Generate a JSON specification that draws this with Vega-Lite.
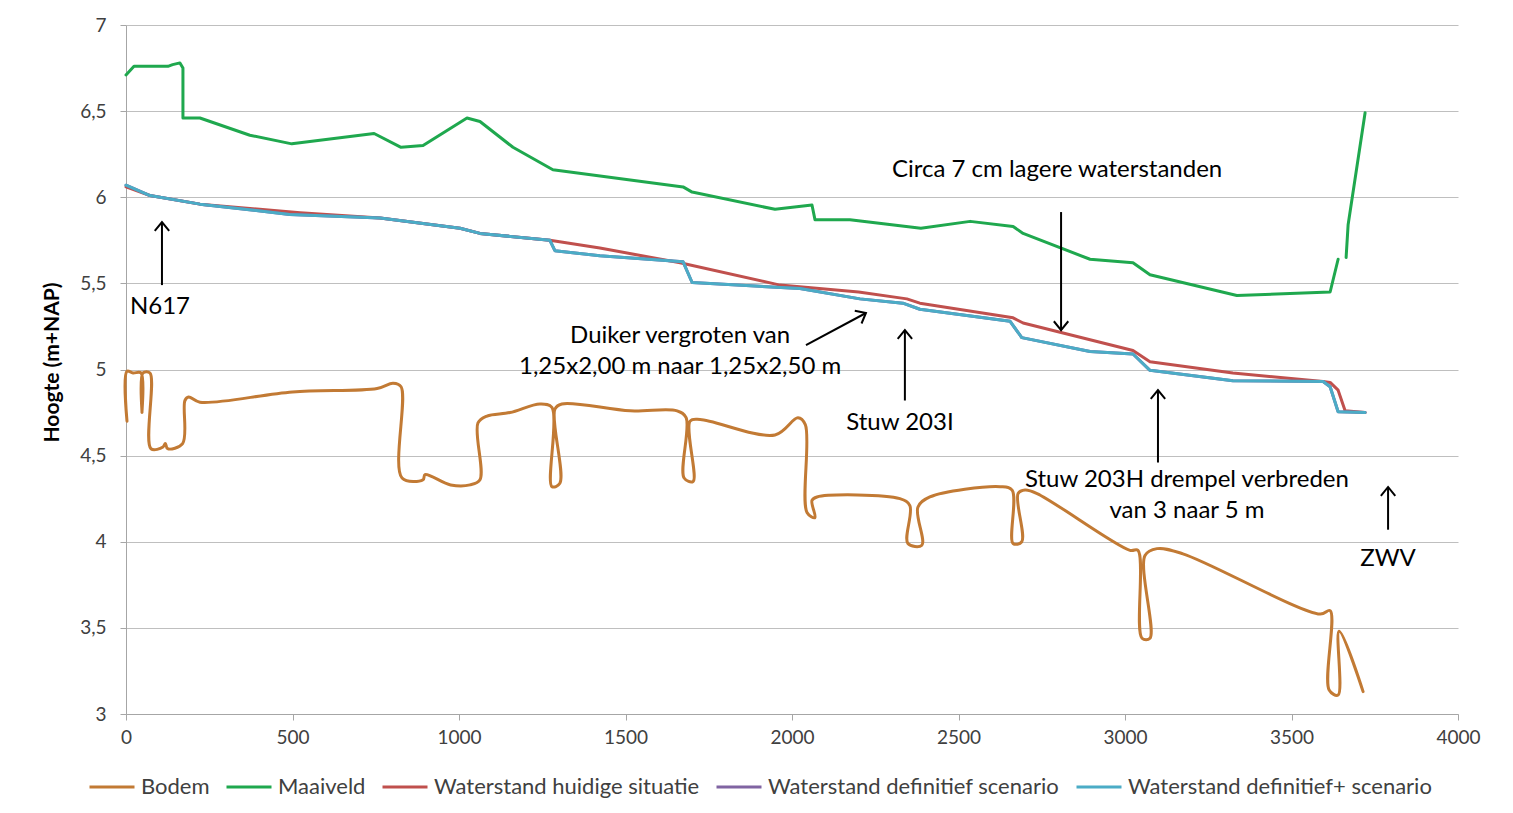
{
  "$schema": "https://vega.github.io/schema/vega-lite/v6.json",
  "width": 1332,
  "height": 689,
  "autosize": {"type": "none"},
  "padding": {"left": 126, "top": 25, "right": 55, "bottom": 99},
  "background": "white",
  "config": {
    "view": {"stroke": null},
    "font": "Lato"
  },
  "datasets": {
    "lines": [
      {"s": "Bodem", "g": 1, "i": 1, "x": 3, "y": 4.70},
      {"s": "Bodem", "g": 1, "i": 2, "x": 3, "y": 4.99},
      {"s": "Bodem", "g": 1, "i": 3, "x": 21, "y": 4.98},
      {"s": "Bodem", "g": 1, "i": 4, "x": 45, "y": 4.98},
      {"s": "Bodem", "g": 1, "i": 5, "x": 48, "y": 4.75},
      {"s": "Bodem", "g": 1, "i": 6, "x": 51, "y": 4.98},
      {"s": "Bodem", "g": 1, "i": 7, "x": 72, "y": 4.98},
      {"s": "Bodem", "g": 1, "i": 8, "x": 75, "y": 4.54},
      {"s": "Bodem", "g": 1, "i": 9, "x": 111, "y": 4.55},
      {"s": "Bodem", "g": 1, "i": 10, "x": 118, "y": 4.57},
      {"s": "Bodem", "g": 1, "i": 11, "x": 125, "y": 4.54},
      {"s": "Bodem", "g": 1, "i": 12, "x": 170, "y": 4.57},
      {"s": "Bodem", "g": 1, "i": 13, "x": 177, "y": 4.82},
      {"s": "Bodem", "g": 1, "i": 14, "x": 188, "y": 4.84},
      {"s": "Bodem", "g": 1, "i": 15, "x": 222, "y": 4.81},
      {"s": "Bodem", "g": 1, "i": 16, "x": 500, "y": 4.87},
      {"s": "Bodem", "g": 1, "i": 17, "x": 754, "y": 4.89},
      {"s": "Bodem", "g": 1, "i": 18, "x": 802, "y": 4.92},
      {"s": "Bodem", "g": 1, "i": 19, "x": 826, "y": 4.90},
      {"s": "Bodem", "g": 1, "i": 20, "x": 829, "y": 4.37},
      {"s": "Bodem", "g": 1, "i": 21, "x": 892, "y": 4.36},
      {"s": "Bodem", "g": 1, "i": 22, "x": 898, "y": 4.39},
      {"s": "Bodem", "g": 1, "i": 23, "x": 975, "y": 4.33},
      {"s": "Bodem", "g": 1, "i": 24, "x": 1033, "y": 4.33},
      {"s": "Bodem", "g": 1, "i": 25, "x": 1063, "y": 4.36},
      {"s": "Bodem", "g": 1, "i": 26, "x": 1057, "y": 4.69},
      {"s": "Bodem", "g": 1, "i": 27, "x": 1084, "y": 4.73},
      {"s": "Bodem", "g": 1, "i": 28, "x": 1153, "y": 4.75},
      {"s": "Bodem", "g": 1, "i": 29, "x": 1243, "y": 4.80},
      {"s": "Bodem", "g": 1, "i": 30, "x": 1279, "y": 4.78},
      {"s": "Bodem", "g": 1, "i": 31, "x": 1279, "y": 4.32},
      {"s": "Bodem", "g": 1, "i": 32, "x": 1303, "y": 4.34},
      {"s": "Bodem", "g": 1, "i": 33, "x": 1288, "y": 4.77},
      {"s": "Bodem", "g": 1, "i": 34, "x": 1309, "y": 4.80},
      {"s": "Bodem", "g": 1, "i": 35, "x": 1514, "y": 4.76},
      {"s": "Bodem", "g": 1, "i": 36, "x": 1655, "y": 4.76},
      {"s": "Bodem", "g": 1, "i": 37, "x": 1682, "y": 4.72},
      {"s": "Bodem", "g": 1, "i": 38, "x": 1676, "y": 4.37},
      {"s": "Bodem", "g": 1, "i": 39, "x": 1703, "y": 4.35},
      {"s": "Bodem", "g": 1, "i": 40, "x": 1694, "y": 4.70},
      {"s": "Bodem", "g": 1, "i": 41, "x": 1724, "y": 4.71},
      {"s": "Bodem", "g": 1, "i": 42, "x": 1949, "y": 4.62},
      {"s": "Bodem", "g": 1, "i": 43, "x": 2018, "y": 4.72},
      {"s": "Bodem", "g": 1, "i": 44, "x": 2040, "y": 4.68},
      {"s": "Bodem", "g": 1, "i": 45, "x": 2045, "y": 4.17},
      {"s": "Bodem", "g": 1, "i": 46, "x": 2069, "y": 4.14},
      {"s": "Bodem", "g": 1, "i": 47, "x": 2060, "y": 4.24},
      {"s": "Bodem", "g": 1, "i": 48, "x": 2075, "y": 4.26},
      {"s": "Bodem", "g": 1, "i": 49, "x": 2324, "y": 4.25},
      {"s": "Bodem", "g": 1, "i": 50, "x": 2354, "y": 4.21},
      {"s": "Bodem", "g": 1, "i": 51, "x": 2348, "y": 3.99},
      {"s": "Bodem", "g": 1, "i": 52, "x": 2390, "y": 3.98},
      {"s": "Bodem", "g": 1, "i": 53, "x": 2378, "y": 4.20},
      {"s": "Bodem", "g": 1, "i": 54, "x": 2414, "y": 4.26},
      {"s": "Bodem", "g": 1, "i": 55, "x": 2625, "y": 4.32},
      {"s": "Bodem", "g": 1, "i": 56, "x": 2661, "y": 4.30},
      {"s": "Bodem", "g": 1, "i": 57, "x": 2664, "y": 3.99},
      {"s": "Bodem", "g": 1, "i": 58, "x": 2690, "y": 4.00},
      {"s": "Bodem", "g": 1, "i": 59, "x": 2679, "y": 4.28},
      {"s": "Bodem", "g": 1, "i": 60, "x": 2700, "y": 4.30},
      {"s": "Bodem", "g": 1, "i": 61, "x": 2736, "y": 4.28},
      {"s": "Bodem", "g": 1, "i": 62, "x": 3015, "y": 3.95},
      {"s": "Bodem", "g": 1, "i": 63, "x": 3039, "y": 3.95},
      {"s": "Bodem", "g": 1, "i": 64, "x": 3051, "y": 3.44},
      {"s": "Bodem", "g": 1, "i": 65, "x": 3075, "y": 3.44},
      {"s": "Bodem", "g": 1, "i": 66, "x": 3060, "y": 3.92},
      {"s": "Bodem", "g": 1, "i": 67, "x": 3096, "y": 3.96},
      {"s": "Bodem", "g": 1, "i": 68, "x": 3174, "y": 3.93},
      {"s": "Bodem", "g": 1, "i": 69, "x": 3586, "y": 3.58},
      {"s": "Bodem", "g": 1, "i": 70, "x": 3616, "y": 3.60},
      {"s": "Bodem", "g": 1, "i": 71, "x": 3613, "y": 3.14},
      {"s": "Bodem", "g": 1, "i": 72, "x": 3640, "y": 3.11},
      {"s": "Bodem", "g": 1, "i": 73, "x": 3643, "y": 3.48},
      {"s": "Bodem", "g": 1, "i": 74, "x": 3715, "y": 3.13},

      {"s": "Maaiveld", "g": 1, "i": 1, "x": 0, "y": 6.71},
      {"s": "Maaiveld", "g": 1, "i": 2, "x": 24, "y": 6.76},
      {"s": "Maaiveld", "g": 1, "i": 3, "x": 126, "y": 6.76},
      {"s": "Maaiveld", "g": 1, "i": 4, "x": 140, "y": 6.77},
      {"s": "Maaiveld", "g": 1, "i": 5, "x": 162, "y": 6.78},
      {"s": "Maaiveld", "g": 1, "i": 6, "x": 171, "y": 6.75},
      {"s": "Maaiveld", "g": 1, "i": 7, "x": 171, "y": 6.46},
      {"s": "Maaiveld", "g": 1, "i": 8, "x": 222, "y": 6.46},
      {"s": "Maaiveld", "g": 1, "i": 9, "x": 372, "y": 6.36},
      {"s": "Maaiveld", "g": 1, "i": 10, "x": 498, "y": 6.31},
      {"s": "Maaiveld", "g": 1, "i": 11, "x": 745, "y": 6.37},
      {"s": "Maaiveld", "g": 1, "i": 12, "x": 826, "y": 6.29},
      {"s": "Maaiveld", "g": 1, "i": 13, "x": 892, "y": 6.30},
      {"s": "Maaiveld", "g": 1, "i": 14, "x": 1024, "y": 6.46},
      {"s": "Maaiveld", "g": 1, "i": 15, "x": 1063, "y": 6.44},
      {"s": "Maaiveld", "g": 1, "i": 16, "x": 1162, "y": 6.29},
      {"s": "Maaiveld", "g": 1, "i": 17, "x": 1282, "y": 6.16},
      {"s": "Maaiveld", "g": 1, "i": 18, "x": 1673, "y": 6.06},
      {"s": "Maaiveld", "g": 1, "i": 19, "x": 1700, "y": 6.03},
      {"s": "Maaiveld", "g": 1, "i": 20, "x": 1949, "y": 5.93},
      {"s": "Maaiveld", "g": 1, "i": 21, "x": 2060, "y": 5.955},
      {"s": "Maaiveld", "g": 1, "i": 22, "x": 2069, "y": 5.87},
      {"s": "Maaiveld", "g": 1, "i": 23, "x": 2174, "y": 5.87},
      {"s": "Maaiveld", "g": 1, "i": 24, "x": 2387, "y": 5.82},
      {"s": "Maaiveld", "g": 1, "i": 25, "x": 2535, "y": 5.86},
      {"s": "Maaiveld", "g": 1, "i": 26, "x": 2664, "y": 5.83},
      {"s": "Maaiveld", "g": 1, "i": 27, "x": 2694, "y": 5.79},
      {"s": "Maaiveld", "g": 1, "i": 28, "x": 2895, "y": 5.64},
      {"s": "Maaiveld", "g": 1, "i": 29, "x": 3024, "y": 5.62},
      {"s": "Maaiveld", "g": 1, "i": 30, "x": 3075, "y": 5.55},
      {"s": "Maaiveld", "g": 1, "i": 31, "x": 3336, "y": 5.43},
      {"s": "Maaiveld", "g": 1, "i": 32, "x": 3616, "y": 5.45},
      {"s": "Maaiveld", "g": 1, "i": 33, "x": 3640, "y": 5.64},
      {"s": "Maaiveld", "g": 2, "i": 34, "x": 3664, "y": 5.65},
      {"s": "Maaiveld", "g": 2, "i": 35, "x": 3670, "y": 5.84},
      {"s": "Maaiveld", "g": 2, "i": 36, "x": 3721, "y": 6.49},

      {"s": "Waterstand huidige situatie", "g": 1, "i": 1, "x": 0, "y": 6.06},
      {"s": "Waterstand huidige situatie", "g": 1, "i": 2, "x": 72, "y": 6.01},
      {"s": "Waterstand huidige situatie", "g": 1, "i": 3, "x": 222, "y": 5.96},
      {"s": "Waterstand huidige situatie", "g": 1, "i": 4, "x": 523, "y": 5.91},
      {"s": "Waterstand huidige situatie", "g": 1, "i": 5, "x": 763, "y": 5.88},
      {"s": "Waterstand huidige situatie", "g": 1, "i": 6, "x": 1003, "y": 5.82},
      {"s": "Waterstand huidige situatie", "g": 1, "i": 7, "x": 1063, "y": 5.79},
      {"s": "Waterstand huidige situatie", "g": 1, "i": 8, "x": 1273, "y": 5.75},
      {"s": "Waterstand huidige situatie", "g": 1, "i": 9, "x": 1423, "y": 5.705},
      {"s": "Waterstand huidige situatie", "g": 1, "i": 10, "x": 1664, "y": 5.62},
      {"s": "Waterstand huidige situatie", "g": 1, "i": 11, "x": 1964, "y": 5.49},
      {"s": "Waterstand huidige situatie", "g": 1, "i": 12, "x": 2200, "y": 5.45},
      {"s": "Waterstand huidige situatie", "g": 1, "i": 13, "x": 2345, "y": 5.41},
      {"s": "Waterstand huidige situatie", "g": 1, "i": 14, "x": 2384, "y": 5.385},
      {"s": "Waterstand huidige situatie", "g": 1, "i": 15, "x": 2664, "y": 5.30},
      {"s": "Waterstand huidige situatie", "g": 1, "i": 16, "x": 2694, "y": 5.27},
      {"s": "Waterstand huidige situatie", "g": 1, "i": 17, "x": 3024, "y": 5.11},
      {"s": "Waterstand huidige situatie", "g": 1, "i": 18, "x": 3075, "y": 5.045},
      {"s": "Waterstand huidige situatie", "g": 1, "i": 19, "x": 3324, "y": 4.98},
      {"s": "Waterstand huidige situatie", "g": 1, "i": 20, "x": 3595, "y": 4.93},
      {"s": "Waterstand huidige situatie", "g": 1, "i": 21, "x": 3616, "y": 4.925},
      {"s": "Waterstand huidige situatie", "g": 1, "i": 22, "x": 3640, "y": 4.88},
      {"s": "Waterstand huidige situatie", "g": 1, "i": 23, "x": 3661, "y": 4.76},
      {"s": "Waterstand huidige situatie", "g": 1, "i": 24, "x": 3721, "y": 4.75},

      {"s": "Waterstand definitief scenario", "g": 1, "i": 1, "x": 0, "y": 6.07},
      {"s": "Waterstand definitief scenario", "g": 1, "i": 2, "x": 72, "y": 6.01},
      {"s": "Waterstand definitief scenario", "g": 1, "i": 3, "x": 222, "y": 5.96},
      {"s": "Waterstand definitief scenario", "g": 1, "i": 4, "x": 492, "y": 5.90},
      {"s": "Waterstand definitief scenario", "g": 1, "i": 5, "x": 763, "y": 5.88},
      {"s": "Waterstand definitief scenario", "g": 1, "i": 6, "x": 1003, "y": 5.82},
      {"s": "Waterstand definitief scenario", "g": 1, "i": 7, "x": 1063, "y": 5.79},
      {"s": "Waterstand definitief scenario", "g": 1, "i": 8, "x": 1273, "y": 5.75},
      {"s": "Waterstand definitief scenario", "g": 1, "i": 9, "x": 1288, "y": 5.69},
      {"s": "Waterstand definitief scenario", "g": 1, "i": 10, "x": 1423, "y": 5.66},
      {"s": "Waterstand definitief scenario", "g": 1, "i": 11, "x": 1673, "y": 5.625},
      {"s": "Waterstand definitief scenario", "g": 1, "i": 12, "x": 1700, "y": 5.505},
      {"s": "Waterstand definitief scenario", "g": 1, "i": 13, "x": 2024, "y": 5.47},
      {"s": "Waterstand definitief scenario", "g": 1, "i": 14, "x": 2204, "y": 5.41},
      {"s": "Waterstand definitief scenario", "g": 1, "i": 15, "x": 2333, "y": 5.385},
      {"s": "Waterstand definitief scenario", "g": 1, "i": 16, "x": 2384, "y": 5.35},
      {"s": "Waterstand definitief scenario", "g": 1, "i": 17, "x": 2655, "y": 5.28},
      {"s": "Waterstand definitief scenario", "g": 1, "i": 18, "x": 2690, "y": 5.185},
      {"s": "Waterstand definitief scenario", "g": 1, "i": 19, "x": 2895, "y": 5.105},
      {"s": "Waterstand definitief scenario", "g": 1, "i": 20, "x": 3024, "y": 5.09},
      {"s": "Waterstand definitief scenario", "g": 1, "i": 21, "x": 3075, "y": 4.995},
      {"s": "Waterstand definitief scenario", "g": 1, "i": 22, "x": 3324, "y": 4.935},
      {"s": "Waterstand definitief scenario", "g": 1, "i": 23, "x": 3595, "y": 4.93},
      {"s": "Waterstand definitief scenario", "g": 1, "i": 24, "x": 3616, "y": 4.90},
      {"s": "Waterstand definitief scenario", "g": 1, "i": 25, "x": 3640, "y": 4.755},
      {"s": "Waterstand definitief scenario", "g": 1, "i": 26, "x": 3721, "y": 4.75},

      {"s": "Waterstand definitief+ scenario", "g": 1, "i": 1, "x": 0, "y": 6.07},
      {"s": "Waterstand definitief+ scenario", "g": 1, "i": 2, "x": 72, "y": 6.01},
      {"s": "Waterstand definitief+ scenario", "g": 1, "i": 3, "x": 222, "y": 5.96},
      {"s": "Waterstand definitief+ scenario", "g": 1, "i": 4, "x": 492, "y": 5.90},
      {"s": "Waterstand definitief+ scenario", "g": 1, "i": 5, "x": 763, "y": 5.88},
      {"s": "Waterstand definitief+ scenario", "g": 1, "i": 6, "x": 1003, "y": 5.82},
      {"s": "Waterstand definitief+ scenario", "g": 1, "i": 7, "x": 1063, "y": 5.79},
      {"s": "Waterstand definitief+ scenario", "g": 1, "i": 8, "x": 1273, "y": 5.75},
      {"s": "Waterstand definitief+ scenario", "g": 1, "i": 9, "x": 1288, "y": 5.69},
      {"s": "Waterstand definitief+ scenario", "g": 1, "i": 10, "x": 1423, "y": 5.66},
      {"s": "Waterstand definitief+ scenario", "g": 1, "i": 11, "x": 1673, "y": 5.625},
      {"s": "Waterstand definitief+ scenario", "g": 1, "i": 12, "x": 1700, "y": 5.505},
      {"s": "Waterstand definitief+ scenario", "g": 1, "i": 13, "x": 2024, "y": 5.47},
      {"s": "Waterstand definitief+ scenario", "g": 1, "i": 14, "x": 2204, "y": 5.41},
      {"s": "Waterstand definitief+ scenario", "g": 1, "i": 15, "x": 2333, "y": 5.385},
      {"s": "Waterstand definitief+ scenario", "g": 1, "i": 16, "x": 2384, "y": 5.35},
      {"s": "Waterstand definitief+ scenario", "g": 1, "i": 17, "x": 2655, "y": 5.28},
      {"s": "Waterstand definitief+ scenario", "g": 1, "i": 18, "x": 2690, "y": 5.185},
      {"s": "Waterstand definitief+ scenario", "g": 1, "i": 19, "x": 2895, "y": 5.105},
      {"s": "Waterstand definitief+ scenario", "g": 1, "i": 20, "x": 3024, "y": 5.09},
      {"s": "Waterstand definitief+ scenario", "g": 1, "i": 21, "x": 3075, "y": 4.995},
      {"s": "Waterstand definitief+ scenario", "g": 1, "i": 22, "x": 3324, "y": 4.935},
      {"s": "Waterstand definitief+ scenario", "g": 1, "i": 23, "x": 3595, "y": 4.93},
      {"s": "Waterstand definitief+ scenario", "g": 1, "i": 24, "x": 3616, "y": 4.90},
      {"s": "Waterstand definitief+ scenario", "g": 1, "i": 25, "x": 3640, "y": 4.755},
      {"s": "Waterstand definitief+ scenario", "g": 1, "i": 26, "x": 3721, "y": 4.75}
    ],
    "notes": [
      {"x": 102, "y": 5.363, "t": "N617"},
      {"x": 1664, "y": 5.195, "t": "Duiker vergroten van"},
      {"x": 1664, "y": 5.015, "t": "1,25x2,00 m naar 1,25x2,50 m"},
      {"x": 2324, "y": 4.689, "t": "Stuw 203I"},
      {"x": 2796, "y": 6.158, "t": "Circa 7 cm lagere waterstanden"},
      {"x": 3186, "y": 4.358, "t": "Stuw 203H drempel verbreden"},
      {"x": 3186, "y": 4.178, "t": "van 3 naar 5 m"},
      {"x": 3790, "y": 3.900, "t": "ZWV"}
    ],
    "arrows": [
      {"x": 108, "y": 5.49, "x2": 108, "y2": 5.856, "dir": "up"},
      {"x": 2042, "y": 5.142, "x2": 2222, "y2": 5.328, "dir": "diag"},
      {"x": 2339, "y": 4.82, "x2": 2339, "y2": 5.229, "dir": "up"},
      {"x": 2808, "y": 5.914, "x2": 2808, "y2": 5.229, "dir": "down"},
      {"x": 3099, "y": 4.46, "x2": 3099, "y2": 4.88, "dir": "up"},
      {"x": 3790, "y": 4.07, "x2": 3790, "y2": 4.318, "dir": "up"}
    ]
  },
  "encoding": {
    "x": {
      "field": "x", "type": "quantitative",
      "scale": {"domain": [0, 4000], "nice": false, "zero": false},
      "axis": {
        "title": null, "values": [0, 500, 1000, 1500, 2000, 2500, 3000, 3500, 4000],
        "format": "d", "grid": false, "domainColor": "#a6a6a6", "tickColor": "#a6a6a6",
        "tickSize": 6, "labelFontSize": 19, "labelColor": "#404040", "labelPadding": 8,
        "labelFlush": false
      }
    },
    "y": {
      "field": "y", "type": "quantitative",
      "scale": {"domain": [3, 7], "nice": false, "zero": false},
      "axis": {
        "title": "Hoogte (m+NAP)", "values": [3, 3.5, 4, 4.5, 5, 5.5, 6, 6.5, 7],
        "labelExpr": "replace(format(datum.value, '~g'), '.', ',')",
        "grid": true, "gridColor": "#bfbfbf", "gridWidth": 1.2,
        "domainColor": "#a6a6a6", "tickColor": "#a6a6a6", "tickSize": 6,
        "labelFontSize": 19, "labelColor": "#404040", "labelPadding": 14,
        "titleFontSize": 21, "titleFontWeight": "bold", "titleColor": "#000000",
        "titleX": -74, "titleY": 337, "titleAngle": 270, "titleAlign": "center", "titleBaseline": "middle"
      }
    },
    "color": {
      "field": "s", "type": "nominal",
      "scale": {
        "domain": ["Bodem", "Maaiveld", "Waterstand huidige situatie", "Waterstand definitief scenario", "Waterstand definitief+ scenario"],
        "range": ["#c27a34", "#1fa84e", "#c0504d", "#8064a2", "#4bacc6"]
      },
      "legend": {
        "title": null, "orient": "none", "direction": "horizontal",
        "legendX": -38, "legendY": 738,
        "symbolType": "stroke", "symbolSize": 2025, "symbolStrokeWidth": 3,
        "labelFontSize": 22, "labelColor": "#404040", "labelOffset": 5,
        "labelLimit": 600, "columnPadding": 10
      }
    }
  },
  "layer": [
    {
      "data": {"name": "lines"},
      "transform": [{"filter": "datum.s == 'Bodem'"}],
      "mark": {"type": "line", "strokeWidth": 3, "strokeJoin": "round", "strokeCap": "round", "interpolate": "catmull-rom"},
      "encoding": {
        "detail": {"field": "g"},
        "order": {"field": "i"}
      }
    },
    {
      "data": {"name": "lines"},
      "transform": [{"filter": "datum.s != 'Bodem'"}],
      "mark": {"type": "line", "strokeWidth": 3, "strokeJoin": "round", "strokeCap": "round"},
      "encoding": {
        "detail": {"field": "g"},
        "order": {"field": "i"}
      }
    },
    {
      "data": {"name": "arrows"},
      "mark": {"type": "rule", "color": "black", "strokeWidth": 2},
      "encoding": {
        "color": {"value": "black"},
        "x2": {"field": "x2"},
        "y2": {"field": "y2"}
      }
    },
    {
      "data": {"name": "arrows"},
      "transform": [{"filter": "datum.dir == 'up'"}],
      "mark": {"type": "point", "shape": "M-0.9,1.1L0,0L0.9,1.1", "filled": false, "stroke": "black", "strokeWidth": 2, "size": 256, "opacity": 1},
      "encoding": {
        "color": {"value": "black"},
        "x": {"field": "x2", "type": "quantitative"},
        "y": {"field": "y2", "type": "quantitative"}
      }
    },
    {
      "data": {"name": "arrows"},
      "transform": [{"filter": "datum.dir == 'down'"}],
      "mark": {"type": "point", "shape": "M-0.9,1.1L0,0L0.9,1.1", "filled": false, "stroke": "black", "strokeWidth": 2, "size": 256, "angle": 180, "opacity": 1},
      "encoding": {
        "color": {"value": "black"},
        "x": {"field": "x2", "type": "quantitative"},
        "y": {"field": "y2", "type": "quantitative"}
      }
    },
    {
      "data": {"name": "arrows"},
      "transform": [{"filter": "datum.dir == 'diag'"}],
      "mark": {"type": "point", "shape": "M-0.9,1.1L0,0L0.9,1.1", "filled": false, "stroke": "black", "strokeWidth": 2, "size": 256, "angle": 62, "opacity": 1},
      "encoding": {
        "color": {"value": "black"},
        "x": {"field": "x2", "type": "quantitative"},
        "y": {"field": "y2", "type": "quantitative"}
      }
    },
    {
      "data": {"name": "notes"},
      "mark": {"type": "text", "fontSize": 24, "align": "center", "baseline": "middle"},
      "encoding": {
        "color": {"value": "black"},
        "text": {"field": "t"}
      }
    }
  ]
}
